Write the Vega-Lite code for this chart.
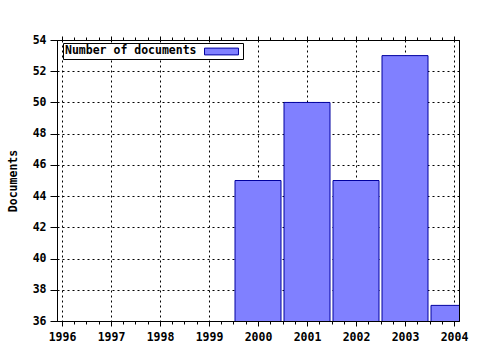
{
  "$schema": "https://vega.github.io/schema/vega-lite/v6.json",
  "width": 402,
  "height": 281,
  "autosize": {"type": "none"},
  "padding": {"left": 57, "top": 40, "right": 21, "bottom": 29},
  "background": "white",
  "config": {
    "view": {"stroke": "black", "strokeWidth": 1},
    "axis": {
      "labelFont": "DejaVu Sans Mono",
      "labelFontWeight": "bold",
      "labelFontSize": 11.5,
      "labelColor": "black",
      "domainColor": "black",
      "tickColor": "black",
      "gridColor": "black",
      "gridDash": [2, 3],
      "gridOpacity": 1,
      "titleFont": "DejaVu Sans Mono",
      "titleFontWeight": "bold",
      "titleFontSize": 11.5,
      "titleColor": "black"
    }
  },
  "data": {
    "values": [
      {"year": 2000, "documents": 45},
      {"year": 2001, "documents": 50},
      {"year": 2002, "documents": 45},
      {"year": 2003, "documents": 53},
      {"year": 2004, "documents": 37}
    ]
  },
  "layer": [
    {
      "mark": {"type": "bar", "size": 46, "clip": true, "stroke": "#0000a0", "strokeWidth": 1},
      "encoding": {
        "x": {
          "field": "year",
          "type": "quantitative",
          "scale": {"domain": [1996, 2004], "nice": false, "zero": false},
          "axis": {
            "orient": "bottom",
            "values": [1996, 1996.25, 1996.5, 1996.75, 1997, 1997.25, 1997.5, 1997.75, 1998, 1998.25, 1998.5, 1998.75, 1999, 1999.25, 1999.5, 1999.75, 2000, 2000.25, 2000.5, 2000.75, 2001, 2001.25, 2001.5, 2001.75, 2002, 2002.25, 2002.5, 2002.75, 2003, 2003.25, 2003.5, 2003.75, 2004],
            "labelExpr": "datum.value % 1 === 0 ? format(datum.value, 'd') : ''",
            "labelPadding": 5,
            "labelOverlap": false,
            "labelFlush": false,
            "grid": true,
            "gridOpacity": {"condition": {"test": "datum.value % 1 === 0", "value": 1}, "value": 0},
            "tickSize": {"condition": {"test": "datum.value % 1 === 0", "value": 5}, "value": 3},
            "title": null
          }
        },
        "y": {
          "field": "documents",
          "type": "quantitative",
          "scale": {"domain": [36, 54], "nice": false, "zero": false},
          "axis": {
            "values": [36, 38, 40, 42, 44, 46, 48, 50, 52, 54],
            "grid": true,
            "tickSize": 7,
            "labelPadding": 4,
            "title": "Documents",
            "titlePadding": 14
          }
        },
        "color": {
          "datum": "Number of documents",
          "scale": {"range": ["#8080ff"]},
          "legend": {
            "orient": "none",
            "legendX": 6,
            "legendY": 3,
            "title": "Number of documents",
            "titleOrient": "left",
            "titleFont": "DejaVu Sans Mono",
            "titleFontWeight": "bold",
            "titleFontSize": 11.5,
            "titleColor": "black",
            "titleBaseline": "middle",
            "titlePadding": 18,
            "labelExpr": "''",
            "labelOffset": 0,
            "labelFontSize": 1,
            "symbolType": "M-3,-0.6H3V0.6H-3Z",
            "symbolSize": 128,
            "symbolStrokeColor": "#0000a0",
            "symbolStrokeWidth": 1,
            "symbolOpacity": 1,
            "strokeColor": "black",
            "fillColor": "white",
            "padding": 2
          }
        }
      }
    },
    {
      "mark": {"type": "tick", "opacity": 0},
      "encoding": {
        "x": {
          "field": "year",
          "type": "quantitative",
          "axis": {
            "orient": "top",
            "values": [1996, 1996.25, 1996.5, 1996.75, 1997, 1997.25, 1997.5, 1997.75, 1998, 1998.25, 1998.5, 1998.75, 1999, 1999.25, 1999.5, 1999.75, 2000, 2000.25, 2000.5, 2000.75, 2001, 2001.25, 2001.5, 2001.75, 2002, 2002.25, 2002.5, 2002.75, 2003, 2003.25, 2003.5, 2003.75, 2004],
            "labels": false,
            "grid": false,
            "tickSize": {"condition": {"test": "datum.value % 1 === 0", "value": 4}, "value": 3},
            "title": null
          }
        }
      }
    }
  ],
  "resolve": {"axis": {"x": "independent"}}
}
